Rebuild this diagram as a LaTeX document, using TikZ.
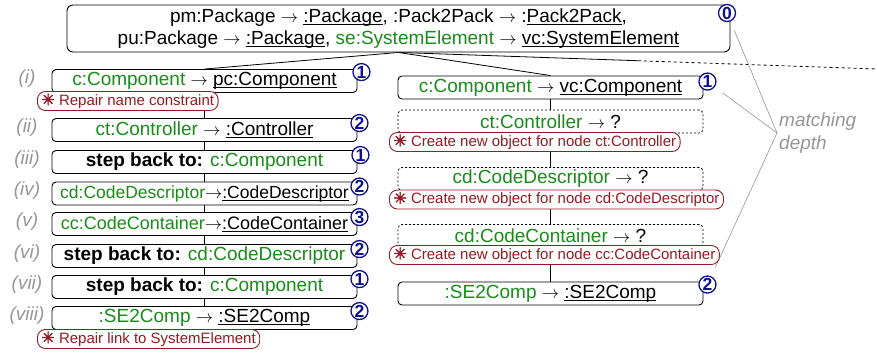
\documentclass[tikz,border=0pt]{standalone}
\usepackage{fontspec}
\setmainfont{Liberation Sans}
\newfontfamily\symfont[FakeBold=2.5]{DejaVu Sans}
\usetikzlibrary{backgrounds}
\definecolor{grn}{RGB}{25,140,25}
\definecolor{repred}{RGB}{150,25,35}
\definecolor{navy}{RGB}{15,15,140}
\definecolor{depthgray}{RGB}{150,150,150}
\newcommand{\ar}{\ensuremath{\rightarrow}}
\newcommand{\gr}[1]{\textcolor{grn}{#1}}
\newcommand{\un}[1]{{\setbox0\hbox{#1}\rlap{\rule[-2.6pt]{\wd0}{0.8pt}}\box0}}
\newcommand{\fix}{{\symfont\fontsize{16}{16}\selectfont ✳}}
\newcommand{\stepb}{\textbf{step back to:}}

\begin{document}
\begin{tikzpicture}[x=1pt, y=-1pt, every node/.style={font=\fontsize{19}{22}\selectfont, inner sep=0pt},
  mbox/.style={draw, rounded corners=4pt, fill=white, line width=0.9pt, minimum width=305pt, minimum height=23pt},
  nbox/.style={mbox, dash pattern=on 2pt off 2pt, line width=0.8pt},
  fixlab/.style={draw=repred, text=repred, fill=white, rounded corners=8pt, line width=0.9pt, minimum height=19pt, inner xsep=4pt, font=\fontsize{15}{17}\selectfont, anchor=west},
  depth/.style={circle, draw=navy, fill=white, line width=1.3pt, minimum size=17pt, text=navy, font=\fontsize{17.5}{17.5}\selectfont\bfseries},
  stepno/.style={text=depthgray, font=\fontsize{19}{23}\selectfont\itshape},
  link/.style={line width=0.8pt}]
  \useasboundingbox (0,0) rectangle (877,356);

  \node[draw, rounded corners=6pt, fill=white, line width=0.9pt, minimum width=663pt, minimum height=47pt, align=center] (top) at (398.5,28.5)
    {pm:Package \ar{} \un{:Package}, :Pack2Pack \ar{} :\un{Pack2Pack},\\ pu:Package \ar{} \un{:Package}, \gr{se:SystemElement} \ar{} \un{vc:SystemElement}};
  \node[depth] (d0) at (727,13) {0};

  \node[mbox] (s1) at (204.5,81) {\gr{c:Component} \ar{} \un{pc:Component}};
  \node[mbox] (s2) at (204.5,130) {\gr{ct:Controller} \ar{} \un{:Controller}};
  \node[mbox] (s3) at (204.5,162) {\stepb{} \gr{c:Component}};
  \node[mbox, font=\fontsize{17.5}{20}\selectfont] (s4) at (204.5,193.5) {\gr{cd:CodeDescriptor}\ar\un{:CodeDescriptor}};
  \node[mbox, font=\fontsize{18}{20}\selectfont] (s5) at (204.5,224) {\gr{cc:CodeContainer}\ar\un{:CodeContainer}};
  \node[mbox] (s6) at (204.5,256) {\stepb{} \gr{cd:CodeDescriptor}};
  \node[mbox] (s7) at (204.5,287) {\stepb{} \gr{c:Component}};
  \node[mbox] (s8) at (204.5,318) {\gr{:SE2Comp} \ar{} \un{:SE2Comp}};

  \node[depth] (b1) at ([shift={(4,3)}]s1.north east) {1};
  \node[depth] (b2) at ([shift={(2,5)}]s2.north east) {2};
  \node[depth] (b3) at ([shift={(3,5)}]s3.north east) {1};
  \node[depth] (b4) at ([shift={(2,5)}]s4.north east) {2};
  \node[depth] (b5) at ([shift={(2,5)}]s5.north east) {3};
  \node[depth] (b6) at ([shift={(2,5)}]s6.north east) {2};
  \node[depth] (b7) at ([shift={(2,4)}]s7.north east) {1};
  \node[depth] (b8) at ([shift={(2,5)}]s8.north east) {2};

  \node[stepno] (n1) at (27,79) {(i)};
  \node[stepno] (n2) at (27,128) {(ii)};
  \node[stepno] (n3) at (27,160) {(iii)};
  \node[stepno] (n4) at (27,191) {(iv)};
  \node[stepno] (n5) at (27,222) {(v)};
  \node[stepno] (n6) at (27,254) {(vi)};
  \node[stepno] (n7) at (27,285) {(vii)};
  \node[stepno] (n8) at (27,316) {(viii)};

  \node[fixlab] (f1) at (37,101) {\fix{} Repair name constraint};
  \node[fixlab] (f8) at (37,339) {\fix{} Repair link to SystemElement};

  \node[mbox] (r1) at (550.5,87.5) {\gr{c:Component} \ar{} \un{vc:Component}};
  \node[nbox] (r2) at (550.5,121.5) {\gr{ct:Controller} \ar{} ?};
  \node[nbox] (r3) at (550.5,179) {\gr{cd:CodeDescriptor} \ar{} ?};
  \node[nbox] (r4) at (550.5,236) {\gr{cd:CodeContainer} \ar{} ?};
  \node[mbox] (r5) at (550.5,293.5) {\gr{:SE2Comp} \ar{} \un{:SE2Comp}};

  \node[depth] (c1) at ([shift={(4,6)}]r1.north east) {1};
  \node[depth] (c5) at ([shift={(4,3)}]r5.north east) {2};

  \node[fixlab] (f2) at (389,142) {\fix{} Create new object for node ct:Controller};
  \node[fixlab] (f3) at (389,199.5) {\fix{} Create new object for node cd:CodeDescriptor};
  \node[fixlab] (f4) at (389,255) {\fix{} Create new object for node cc:CodeContainer};

  \node[stepno, anchor=west, align=left, inner xsep=2pt] (md) at (777,133) {matching\\depth};

  \coordinate (away) at (877,69);
  \begin{scope}[on background layer]
    \draw[link] (top.south) -- (s1.north);
    \draw[link] (top.south) -- (r1.north);
    \path (top.south) -- (away) coordinate[pos=0.5] (cut);
    \draw[link] (top.south) -- (cut);
    \draw[link, dash pattern=on 3pt off 3pt] (cut) -- (away);
    \foreach \a/\b in {s1/s2, s2/s3, s3/s4, s4/s5, s5/s6, s6/s7, s7/s8}
      \draw[link] (\a) -- (\b);
    \foreach \a/\b in {r1/r2, r2/r3, r3/r4, r4/r5}
      \draw[link] (\a) -- (\b);
    \draw[depthgray, line width=0.6pt, shorten <=10pt] (d0) -- (md.west);
    \draw[depthgray, line width=0.6pt, shorten <=10pt] (c1) -- (md.west);
    \draw[depthgray, line width=0.6pt, shorten <=10pt] (c5) -- (md.west);
  \end{scope}
\end{tikzpicture}
\end{document}
